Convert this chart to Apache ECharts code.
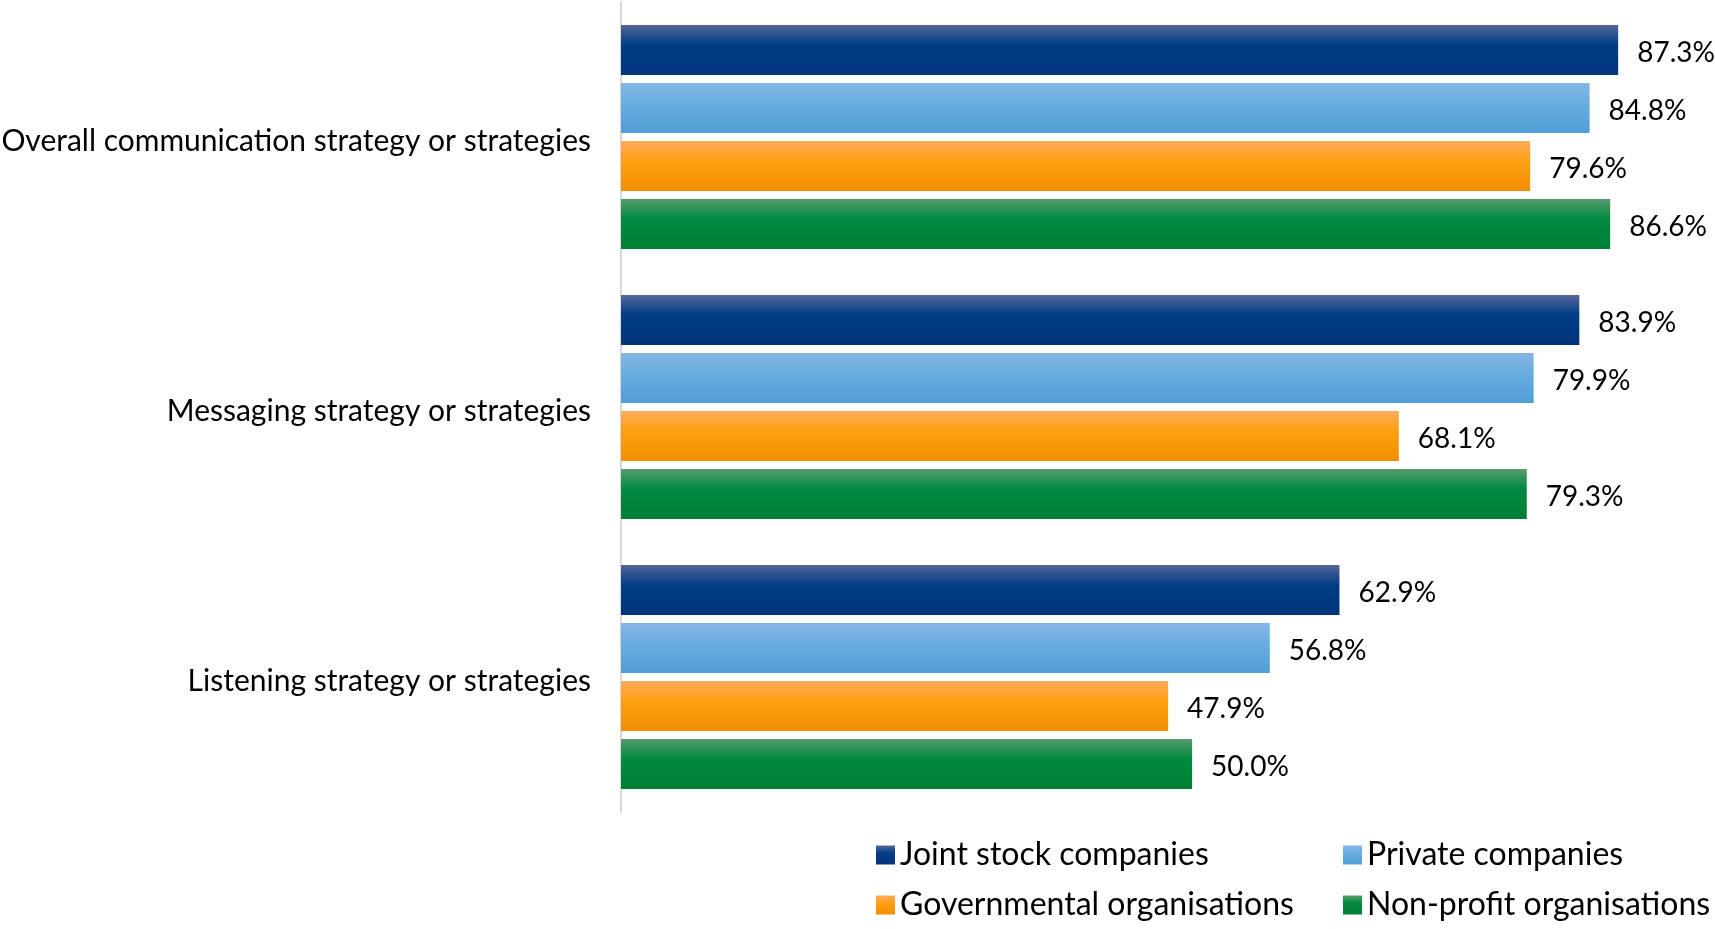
<!DOCTYPE html>
<html>
<head>
<meta charset="utf-8">
<script src="https://cdn.jsdelivr.net/npm/echarts@6/dist/echarts.min.js"></script>
<style>
  html, body { margin: 0; padding: 0; background: #ffffff; }
  #chart { width: 1715px; height: 929px; }
</style>
</head>
<body>
<div id="chart"></div>
<script>
// Strategy categories (top to bottom)
const categories = [
  'Overall communication strategy or strategies',
  'Messaging strategy or strategies',
  'Listening strategy or strategies'
];

// Share of organisations (%) per organisation type
const jointStock = [87.3, 83.9, 62.9];
const privateCompanies = [84.8, 79.9, 56.8];
const governmental = [79.6, 68.1, 47.9];
const nonProfit = [86.6, 79.3, 50.0];

const seriesNames = [
  'Joint stock companies',
  'Private companies',
  'Governmental organisations',
  'Non-profit organisations'
];

const FONT = 'Lato';

// Vertical shading for each bar: lighter top edge fading into the body colour
function shade(top, mid, bottom) {
  return new echarts.graphic.LinearGradient(0, 0, 0, 1, [
    { offset: 0, color: top },
    { offset: 0.4, color: mid },
    { offset: 1, color: bottom }
  ]);
}

const palettes = [
  shade('#55669a', '#003d86', '#00347a'),
  shade('#85b6e3', '#6aade1', '#519dd6'),
  shade('#ffab5e', '#ffa012', '#ef8e00'),
  shade('#589b6c', '#008a3f', '#007f35')
];

const values = [jointStock, privateCompanies, governmental, nonProfit];

const series = values.map((data, i) => ({
  name: seriesNames[i],
  type: 'bar',
  data: data,
  barWidth: 50,
  barGap: '16%',
  itemStyle: { color: palettes[i] },
  label: {
    show: true,
    position: 'right',
    distance: 19,
    offset: [0, 3],
    color: '#000000',
    fontFamily: FONT,
    fontSize: 28,
    formatter: p => p.value.toFixed(1) + '%'
  },
  emphasis: { disabled: true }
}));

// One legend block per entry, laid out as a 2 x 2 table
const legendSlots = [
  { left: 876, top: 839 },
  { left: 1343, top: 839 },
  { left: 876, top: 889 },
  { left: 1343, top: 889 }
];

const legends = seriesNames.map((name, i) => ({
  data: [name],
  left: legendSlots[i].left,
  top: legendSlots[i].top,
  padding: 0,
  icon: 'rect',
  itemWidth: 19,
  itemHeight: 19,
  selectedMode: false,
  textStyle: { fontFamily: FONT, fontSize: 32, color: '#000000' }
}));

const chart = echarts.init(document.getElementById('chart'), null, { renderer: 'canvas' });
chart.setOption({
  animation: false,
  backgroundColor: '#ffffff',
  grid: {
    left: 621, top: 2, width: 1028, height: 810,
    containLabel: false,
    outerBoundsMode: 'none'
  },
  xAxis: {
    type: 'value',
    min: 0,
    max: 90,
    show: false
  },
  yAxis: {
    type: 'category',
    data: categories,
    inverse: true,
    axisLine: { show: true, lineStyle: { color: '#d9d9d9', width: 2 } },
    axisTick: { show: false },
    axisLabel: {
      margin: 30,
      color: '#000000',
      formatter: v => '{c|' + v + '}',
      rich: {
        c: {
          fontFamily: FONT,
          fontSize: 30,
          color: '#000000',
          padding: [8, 0, 0, 0]
        }
      }
    }
  },
  legend: legends,
  series: series
});
</script>
</body>
</html>
